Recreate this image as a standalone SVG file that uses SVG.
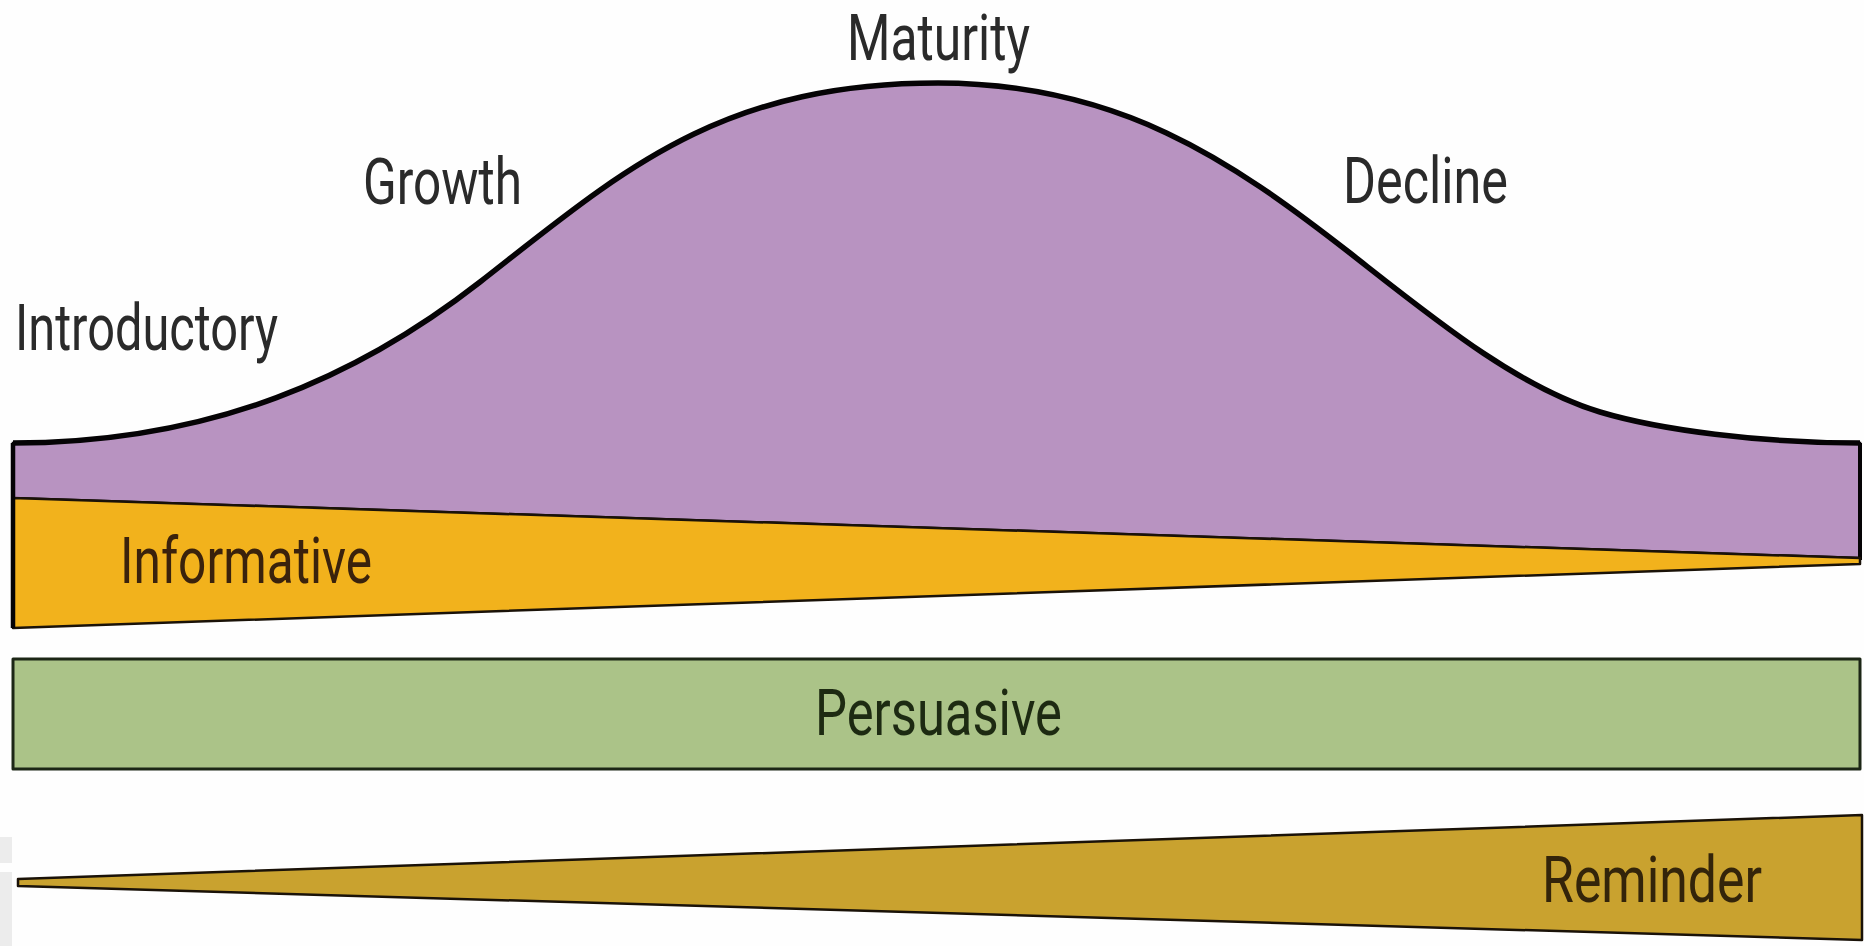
<svg xmlns="http://www.w3.org/2000/svg" width="1864" height="946" viewBox="0 0 1864 946">
<style>
.lbl{font-family:"Liberation Sans Narrow","Roboto","Liberation Sans",sans-serif;font-size:65px;fill:#2a2a2a}
.band{stroke:#1a1208;stroke-width:2.5;stroke-linejoin:round}
</style>
<defs>
<path id="bell" d="M13,443 C213,443 360,375.6 480,282 C620,172.8 718,83 938,83 C1118,83 1230,159.4 1350,253 C1433,318 1517,387 1600,412 C1660,430 1760,443 1860,443"/>
</defs>
<rect width="1864" height="946" fill="#fefefe"/>
<rect x="0" y="837" width="12" height="26" fill="#ececec"/>
<rect x="0" y="872" width="12" height="74" fill="#ececec"/>
<g id="lifecycle">
<path d="M13,443 C213,443 360,375.6 480,282 C620,172.8 718,83 938,83 C1118,83 1230,159.4 1350,253 C1433,318 1517,387 1600,412 C1660,430 1760,443 1860,443 L1860,558 L13,498 Z" fill="#b893c1" stroke="#0a0508" stroke-width="2.5"/>
<use href="#bell" fill="none" stroke="#050305" stroke-width="5.5"/>
<path d="M1860,443 L1860,560" fill="none" stroke="#050305" stroke-width="4"/>
<text class="lbl" x="847" y="60" textLength="183" lengthAdjust="spacingAndGlyphs">Maturity</text>
<text class="lbl" x="363" y="204" textLength="159" lengthAdjust="spacingAndGlyphs">Growth</text>
<text class="lbl" x="1343" y="203" textLength="165" lengthAdjust="spacingAndGlyphs">Decline</text>
<text class="lbl" x="15" y="350" textLength="263" lengthAdjust="spacingAndGlyphs">Introductory</text>
</g>
<g id="informative">
<polygon class="band" points="13,498 1860,558 1860,564 13,628" fill="#f2b21c"/>
<text class="lbl" x="120" y="583" textLength="252" lengthAdjust="spacingAndGlyphs" style="fill:#3a220c">Informative</text>
</g>
<path d="M13,443 L13,628" fill="none" stroke="#050305" stroke-width="4.5"/>
<g id="persuasive">
<rect class="band" x="13" y="659" width="1847" height="110" fill="#abc388" style="stroke:#1c2616;stroke-width:3"/>
<text class="lbl" x="815" y="735" textLength="247" lengthAdjust="spacingAndGlyphs" style="fill:#1d2a12">Persuasive</text>
</g>
<g id="reminder">
<polygon class="band" points="18,879 1862,815 1862,940 18,886" fill="#c9a22f"/>
<text class="lbl" x="1542" y="902" textLength="220" lengthAdjust="spacingAndGlyphs" style="fill:#33240a">Reminder</text>
</g>
<g id="connectors"></g>
</svg>
